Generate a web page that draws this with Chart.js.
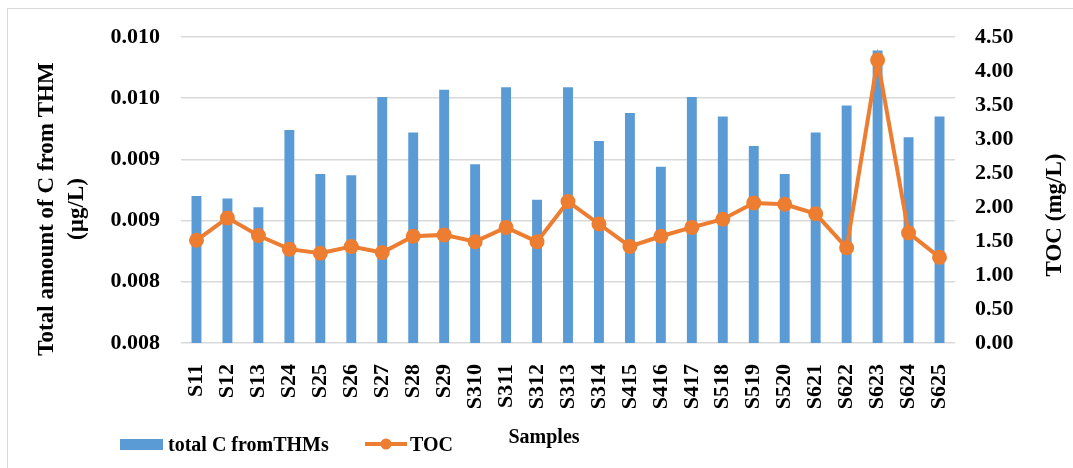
<!DOCTYPE html>
<html>
<head>
<meta charset="utf-8">
<script src="https://cdn.jsdelivr.net/npm/chart.js@4.4.1/dist/chart.umd.min.js"></script>
<style>
    html, body { margin: 0; padding: 0; background: #fff; overflow: hidden; }
    #wrap { position: relative; width: 1073px; height: 468px; }
    #frame { position: absolute; left: 7px; top: 8px; width: 1080px; height: 470px; border: 1.5px solid #d9d9d9; box-sizing: border-box; }
    #chart { position: absolute; left: 0; top: 0; }
</style>
</head>
<body>
<div id="wrap">
    <div id="frame"></div>
    <canvas id="chart" width="1073" height="468"></canvas>
</div>
<script>
const samples = ['S11', 'S12', 'S13', 'S24', 'S25', 'S26', 'S27', 'S28', 'S29', 'S310', 'S311', 'S312', 'S313',
    'S314', 'S415', 'S416', 'S417', 'S518', 'S519', 'S520', 'S621', 'S622', 'S623', 'S624', 'S625'];

// total C from THMs (left axis)
const thmCarbon = [0.00870, 0.00868, 0.00861, 0.00924, 0.00888, 0.00887, 0.00951, 0.00922, 0.00957, 0.00896,
    0.00959, 0.00867, 0.00959, 0.00915, 0.00938, 0.00894, 0.00951, 0.00935, 0.00911, 0.00888, 0.00922,
    0.00944, 0.00989, 0.00918, 0.00935];

// TOC in mg/L (right axis)
const toc = [1.51, 1.84, 1.58, 1.38, 1.32, 1.42, 1.33, 1.57, 1.59, 1.49, 1.70, 1.49, 2.08, 1.75, 1.42, 1.57,
    1.70, 1.82, 2.06, 2.04, 1.90, 1.40, 4.16, 1.62, 1.26];

// left tick labels as printed (3 decimals, so pairs repeat)
const leftTickLabels = ['0.008', '0.008', '0.009', '0.009', '0.010', '0.010'];
const seriesNames = ['total C fromTHMs', 'TOC'];
const leftTitle = ['Total amount of C from THM', '(\u00b5g/L)'];
const rightTitle = 'TOC (mg/L)';
const xTitle = 'Samples';

const BLUE = '#5b9bd5';
const ORANGE = '#ed7d31';
const GRID = '#d9d9d9';
const FONT = '"Liberation Serif", "Times New Roman", serif';

// axis titles and legend drawn by hand so they sit where the original has them
const extraText = {
    id: 'extraText',
    afterDraw(chart) {
        const ctx = chart.ctx;
        ctx.save();
        ctx.fillStyle = '#000';

        ctx.font = `bold 23px ${FONT}`;
        ctx.textAlign = 'center';
        ctx.textBaseline = 'middle';
        ctx.save();
        ctx.translate(47, 209);
        ctx.rotate(-Math.PI / 2);
        ctx.fillText(leftTitle[0], 0, 0);
        ctx.fillText(leftTitle[1], 0, 30);
        ctx.restore();

        ctx.save();
        ctx.translate(1055, 215);
        ctx.rotate(-Math.PI / 2);
        ctx.fillText(rightTitle, 0, 0);
        ctx.restore();

        ctx.font = `bold 20px ${FONT}`;
        ctx.textBaseline = 'alphabetic';
        ctx.fillText(xTitle, 544, 443);

        // legend
        ctx.textAlign = 'left';
        ctx.fillStyle = BLUE;
        ctx.fillRect(120, 439, 43, 11);
        ctx.fillStyle = '#000';
        ctx.fillText(seriesNames[0], 168, 451);

        ctx.strokeStyle = ORANGE;
        ctx.lineWidth = 4;
        ctx.beginPath();
        ctx.moveTo(365, 444);
        ctx.lineTo(407, 444);
        ctx.stroke();
        ctx.fillStyle = ORANGE;
        ctx.beginPath();
        ctx.arc(386, 444, 5.5, 0, Math.PI * 2);
        ctx.fill();
        ctx.fillStyle = '#000';
        ctx.fillText(seriesNames[1], 410, 451);

        ctx.restore();
    }
};

new Chart(document.getElementById('chart'), {
    data: {
        labels: samples,
        datasets: [
            {
                type: 'line',
                label: seriesNames[1],
                data: toc,
                yAxisID: 'yRight',
                borderColor: ORANGE,
                backgroundColor: ORANGE,
                borderWidth: 4,
                pointRadius: 5.5,
                pointHoverRadius: 5.5,
                tension: 0,
                order: 0
            },
            {
                type: 'bar',
                label: seriesNames[0],
                data: thmCarbon,
                yAxisID: 'yLeft',
                backgroundColor: BLUE,
                categoryPercentage: 1,
                barPercentage: 0.32,
                order: 1
            }
        ]
    },
    plugins: [extraText],
    options: {
        responsive: false,
        animation: false,
        devicePixelRatio: 1,
        layout: { padding: { top: 37, left: 0, right: 0, bottom: 0 } },
        plugins: {
            legend: { display: false },
            tooltip: { enabled: false }
        },
        scales: {
            x: {
                grid: { display: false },
                border: { display: false },
                ticks: {
                    color: '#000',
                    font: { family: FONT, size: 22, weight: 'bold' },
                    minRotation: 90,
                    maxRotation: 90,
                    autoSkip: false,
                    padding: 13
                },
                afterFit(scale) { scale.height = 125; }
            },
            yLeft: {
                position: 'left',
                min: 0.0075,
                max: 0.0100,
                grid: { color: GRID, lineWidth: 1.5, drawTicks: false },
                border: { display: false },
                ticks: {
                    stepSize: 0.0005,
                    color: '#000',
                    padding: 21,
                    font: { family: FONT, size: 22, weight: 'bold' },
                    callback: (v, i) => leftTickLabels[i]
                },
                afterFit(scale) { scale.width = 181; }
            },
            yRight: {
                position: 'right',
                min: 0,
                max: 4.5,
                grid: { display: false, drawTicks: false },
                border: { display: false },
                ticks: {
                    stepSize: 0.5,
                    color: '#000',
                    padding: 20,
                    font: { family: FONT, size: 22, weight: 'bold' },
                    callback: v => v.toFixed(2)
                },
                afterFit(scale) { scale.width = 118; }
            }
        }
    }
});
</script>
</body>
</html>
